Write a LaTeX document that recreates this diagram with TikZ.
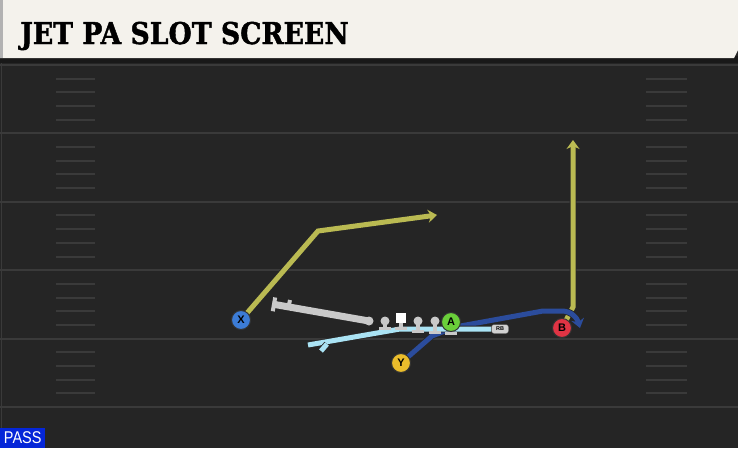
\documentclass[tikz,border=0pt]{standalone}
\usepackage{fontspec}
\setmainfont{Liberation Sans}
\newfontfamily\titlefont{DejaVu Serif}[FakeBold=1.5]
\usetikzlibrary{arrows.meta}
\definecolor{fieldbg}{HTML}{252525}
\definecolor{yardline}{HTML}{3A3A3A}
\definecolor{titlebg}{HTML}{F4F2EC}
\definecolor{routeyellow}{HTML}{BABA52}
\definecolor{routeblue}{HTML}{2B4C9C}
\definecolor{screenblue}{HTML}{AAE3F4}
\definecolor{olgray}{HTML}{C9C9C9}
\definecolor{xblue}{HTML}{3C7CD6}
\definecolor{agreen}{HTML}{6ACF3A}
\definecolor{yyellow}{HTML}{EBBD2B}
\definecolor{bred}{HTML}{E03444}
\definecolor{passblue}{HTML}{0526D8}
\pgfdeclarelayer{field}
\pgfdeclarelayer{routes}
\pgfsetlayers{field,routes,main}
\pgfkeys{tikz/route/.style={line width=5pt,
                            preaction={draw=black!85, line width=6.6pt}}}
\pgfkeys{tikz/routehead/.style={-{Stealth[length=9pt,width=13pt,inset=3pt]}}}
\pgfkeys{tikz/player/.style={circle, draw=black!80, line width=1pt,
                             minimum size=19pt, inner sep=0pt,
                             font=\bfseries\fontsize{11}{11}\selectfont}}
\pgfkeys{tikz/lineman/.style={circle, fill=olgray, minimum size=9pt, inner sep=0pt}}
\pgfkeys{tikz/olblock/.style={draw=olgray, line width=3.5pt,
                              -{Bar[width=12pt,line width=3.5pt]}}}

\begin{document}
\begin{tikzpicture}[x=1pt,y=-1pt]
    \useasboundingbox (0,0) rectangle (738,448);
    % players
    \node[player, fill=xblue] (X) at (241,320) {X};
    \node[player, fill=agreen] (A) at (451,322) {A};
    \node[player, fill=yyellow] (Y) at (401,363) {Y};
    \node[player, fill=bred] (B) at (562,328) {B};
    \node[draw=black!70, fill=olgray!85, rounded corners=2.5pt, minimum width=17pt,
          minimum height=9pt, inner sep=0pt, font=\bfseries\fontsize{5.5}{5.5}\selectfont] (RB) at (500,329) {RB};
    \node[lineman] (lt) at (369,321) {};
    \node[lineman] (lg) at (385,321) {};
    \node[fill=white, minimum size=10pt, inner sep=0pt] (c) at (401,318) {};
    \node[lineman] (rg) at (418,321) {};
    \node[lineman] (rt) at (435,321) {};

    \begin{pgfonlayer}{field}
        \fill[fieldbg] (0,0) rectangle (738,448);
        \fill[black!90] (0,56) rectangle (738,63);
        \fill[titlebg] (0,0) -- (738,0) -- (738,50) -- (734,58) -- (0,58) -- cycle;
        \fill[black!30] (0,0) rectangle (3,58);
        \draw[yardline, line width=1pt] (1.5,63) -- (1.5,448);
        \foreach \k in {0,...,5}
            \draw[yardline, line width=2pt] (0,65+68.4*\k) -- (738,65+68.4*\k);
        \foreach \k in {0,...,4}
            \foreach \h in {1,...,4} {
                \draw[yardline, line width=2pt] (56,65+68.4*\k+13.68*\h) -- (95,65+68.4*\k+13.68*\h);
                \draw[yardline, line width=2pt] (646,65+68.4*\k+13.68*\h) -- (687,65+68.4*\k+13.68*\h);
            }
        \node[anchor=base west, inner sep=0pt] (title) at (20,44)
            {\scalebox{0.89}[1]{\titlefont\bfseries\fontsize{30}{30}\selectfont JET PA SLOT SCREEN}};
        \node[fill=passblue, text=white, anchor=south west, minimum width=45pt,
              minimum height=20pt, inner sep=0pt] (pass) at (0,448)
            {\scalebox{0.85}[1]{\fontsize{17}{17}\selectfont PASS}};
    \end{pgfonlayer}

    \begin{pgfonlayer}{routes}
        \coordinate (xbreak) at (318,231);
        \coordinate (xend) at (437,215);
        \draw[route, routehead, draw=routeyellow] (X.center) -- (xbreak) -- (xend);
        \coordinate (bbreak) at (573,307);
        \coordinate (bend) at (573,140);
        \draw[route, routehead, draw=routeyellow] (B.center) -- (bbreak) -- (bend);
        \coordinate (ybreak) at (432,336);
        \coordinate (ystem) at (543,311);
        \coordinate (yend) at (580,328);
        \draw[route, routehead, draw=routeblue] (Y.center) -- (ybreak) -- (455,327) -- (ystem)
            -- (562,311) to[out=0,in=105] (yend);
        \coordinate (sbreak) at (400,329);
        \coordinate (send) at (308,345);
        \coordinate (sfoot) at (327,344);
        \draw[route, draw=screenblue, line join=round] (RB.west) -- (sbreak) -- (send);
        \draw[route, draw=screenblue] (sfoot) -- ++(-6,7);
        % blocks
        \coordinate (ltend) at (272,304);
        \draw[olblock, line width=7pt, -{Bar[width=14pt,line width=4pt]}] (lt.center) -- (ltend);
        \draw[draw=olgray, line width=4pt] (288.5,307) -- (290,300);
        \draw[olblock] (lg.center) -- ++(0,9);
        \draw[olblock] (c.center) -- ++(0,12);
        \draw[olblock] (rg.center) -- ++(0,12);
        \draw[olblock] (rt.center) -- ++(0,13);
        \draw[olblock] (A.center) -- ++(0,13);
    \end{pgfonlayer}
\end{tikzpicture}
\end{document}
